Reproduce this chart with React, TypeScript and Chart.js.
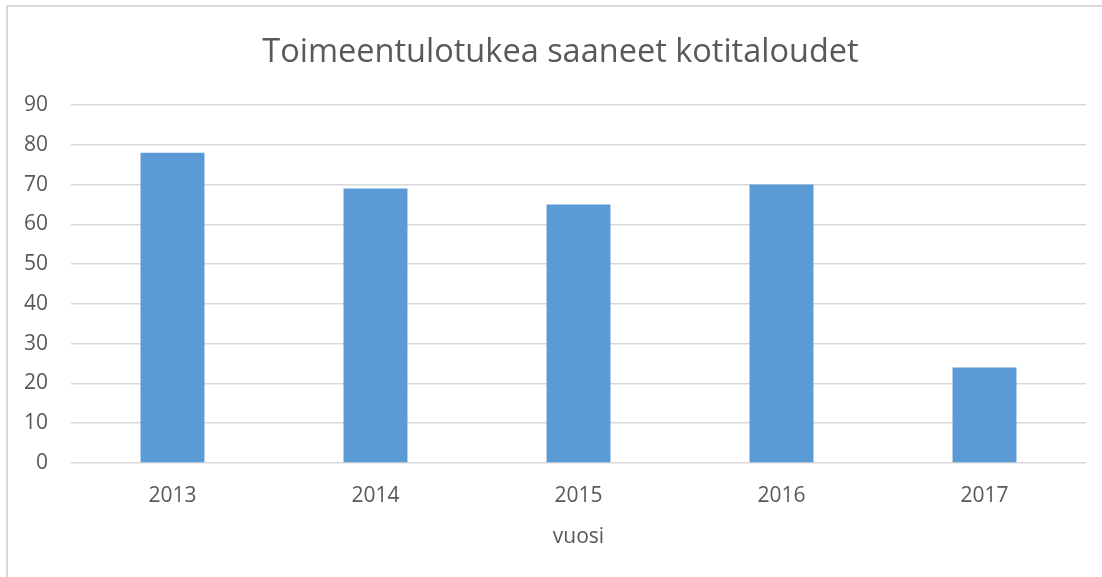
import React, { useEffect, useRef } from "react";
import { Chart, registerables } from "chart.js";

Chart.register(...registerables);

const categories = ["2013", "2014", "2015", "2016", "2017"];
const values = [78, 69, 65, 70, 24];
const titleText = "Toimeentulotukea saaneet kotitaloudet";
const xTitle = "vuosi";

const FONT = "'Open Sans', 'DejaVu Sans', sans-serif";
const TEXT = "#595959";
const GRID = "#d9d9d9";

const titlePlugin = {
  id: "offsetTitle",
  afterDraw(chart: any) {
    const ctx = chart.ctx;
    ctx.save();
    ctx.font = `normal 32.5px ${FONT}`;
    ctx.fillStyle = TEXT;
    ctx.textAlign = "center";
    ctx.textBaseline = "middle";
    ctx.fillText(titleText, 552.5, 45.5);
    ctx.restore();
  },
};

export default function App() {
  const ref = useRef<HTMLCanvasElement | null>(null);

  useEffect(() => {
    if (!ref.current) return;
    const chart = new Chart(ref.current, {
      type: "bar",
      data: {
        labels: categories,
        datasets: [
          {
            data: values,
            backgroundColor: "#5b9bd5",
            borderWidth: 0,
            categoryPercentage: 1,
            barPercentage: 0.315,
          },
        ],
      },
      plugins: [titlePlugin],
      options: {
        responsive: false,
        animation: false,
        layout: { padding: { left: 0, right: 16, top: 98, bottom: 0 } },
        plugins: {
          legend: { display: false },
          tooltip: { enabled: false },
          title: { display: false },
        },
        scales: {
          x: {
            grid: { display: false },
            border: { display: false },
            ticks: {
              color: TEXT,
              font: { family: FONT, size: 21 },
              padding: 12,
            },
            title: {
              display: true,
              text: xTitle,
              color: TEXT,
              font: { family: FONT, size: 21 },
              padding: { top: 0, bottom: 27 },
            },
            afterFit: (scale: any) => {
              scale.height = 114;
            },
          },
          y: {
            min: 0,
            max: 90,
            ticks: {
              stepSize: 10,
              color: TEXT,
              font: { family: FONT, size: 21 },
              padding: 23,
            },
            grid: { color: GRID, lineWidth: 1.5, drawTicks: false },
            border: { display: false },
            afterFit: (scale: any) => {
              scale.width = 63;
            },
          },
        },
      },
    });
    return () => chart.destroy();
  }, []);

  return (
    <div
      style={{
        position: "absolute",
        left: 6,
        top: 5,
        width: 1094,
        height: 570,
        borderLeft: `2px solid ${GRID}`,
        borderTop: `2px solid ${GRID}`,
        background: "#fff",
      }}
    >
      <canvas ref={ref} width={1094} height={570} style={{ display: "block" }} />
    </div>
  );
}
